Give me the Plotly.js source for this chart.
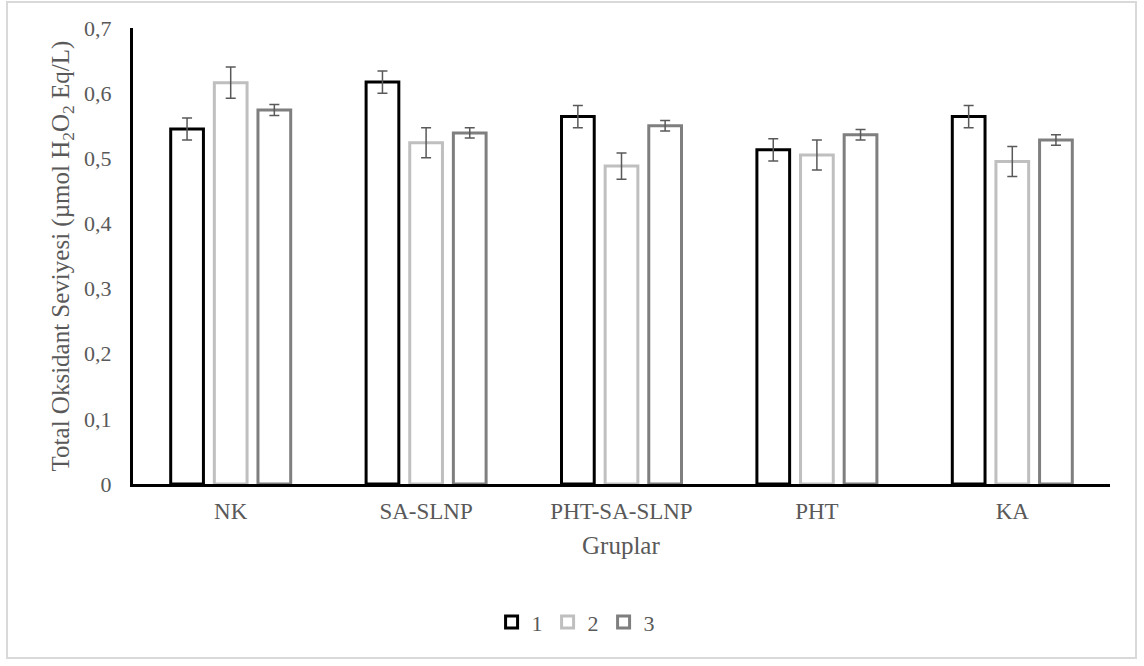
<!DOCTYPE html>
<html>
<head>
<meta charset="utf-8">
<script src="https://cdn.plot.ly/plotly-3.0.1.min.js"></script>
<style>
html,body{margin:0;padding:0;background:#fff;}
#frame{position:absolute;left:6px;top:1px;width:1131px;height:658px;border:2px solid #d9d9d9;box-sizing:border-box;}
#chart{position:absolute;left:0;top:0;width:1144px;height:666px;}
</style>
</head>
<body>
<div id="chart"></div>
<div id="frame"></div>
<script>
const categories = ["NK", "SA-SLNP", "PHT-SA-SLNP", "PHT", "KA"];
const seriesNames = ["1", "2", "3"];
const series1 = [0.545, 0.617, 0.564, 0.513, 0.564];
const series2 = [0.616, 0.524, 0.488, 0.505, 0.495];
const series3 = [0.574, 0.539, 0.550, 0.536, 0.528];
const err1 = [0.017, 0.017, 0.017, 0.017, 0.017];
const err2 = [0.024, 0.023, 0.020, 0.023, 0.023];
const err3 = [0.0085, 0.008, 0.008, 0.008, 0.008];
const yTicks = [0, 0.1, 0.2, 0.3, 0.4, 0.5, 0.6, 0.7];
const yTickLabels = ["0", "0,1", "0,2", "0,3", "0,4", "0,5", "0,6", "0,7"];
const xTitle = "Gruplar";
const yTitle = "Total Oksidant Seviyesi (µmol H<sub>2</sub>O<sub>2</sub> Eq/L)";

const colors = ["#000000", "#bfbfbf", "#7f7f7f"];
const values = [series1, series2, series3];
const errs = [err1, err2, err3];

const FF = "Liberation Serif, serif";
const GREY = "#595959";

const traces = values.map((v, i) => ({
  type: "bar",
  name: seriesNames[i],
  x: categories,
  y: v,
  marker: {color: "rgba(255,255,255,1)", line: {color: colors[i], width: 3}},
  error_y: {type: "data", array: errs[i], visible: true, color: GREY, thickness: 1.5, width: 5}
}));

const layout = {
  width: 1144, height: 666,
  margin: {l: 133, r: 34, t: 28, b: 182},
  paper_bgcolor: "rgba(0,0,0,0)",
  plot_bgcolor: "#fff",
  barmode: "group",
  bargap: 0.33,
  bargroupgap: 0.25,
  font: {family: FF, color: GREY, size: 20},
  showlegend: true,
  legend: {orientation: "h", x: 0.453, xanchor: "center", y: -0.303, yanchor: "middle",
           font: {family: FF, size: 22, color: GREY}, itemwidth: 30, traceorder: "normal"},
  annotations: [{
    text: xTitle, xref: "paper", yref: "paper", x: 0.4995, y: -0.134,
    xanchor: "center", yanchor: "middle", showarrow: false,
    font: {family: FF, size: 25, color: GREY}
  }],
  xaxis: {
    showline: true, linecolor: "#000", linewidth: 3,
    ticks: "", showgrid: false, zeroline: false,
    tickfont: {family: FF, size: 23, color: GREY},
    ticklabelstandoff: 4
  },
  yaxis: {
    range: [0, 0.7], showline: true, linecolor: "#000", linewidth: 3,
    ticks: "", showgrid: false, zeroline: false,
    tickvals: yTicks, ticktext: yTickLabels,
    tickfont: {family: FF, size: 22, color: GREY},
    ticklabelstandoff: 14,
    title: {text: yTitle, font: {family: FF, size: 25, color: GREY}, standoff: 8}
  }
};

Plotly.newPlot("chart", traces, layout, {displayModeBar: false, staticPlot: true});
</script>
</body>
</html>
